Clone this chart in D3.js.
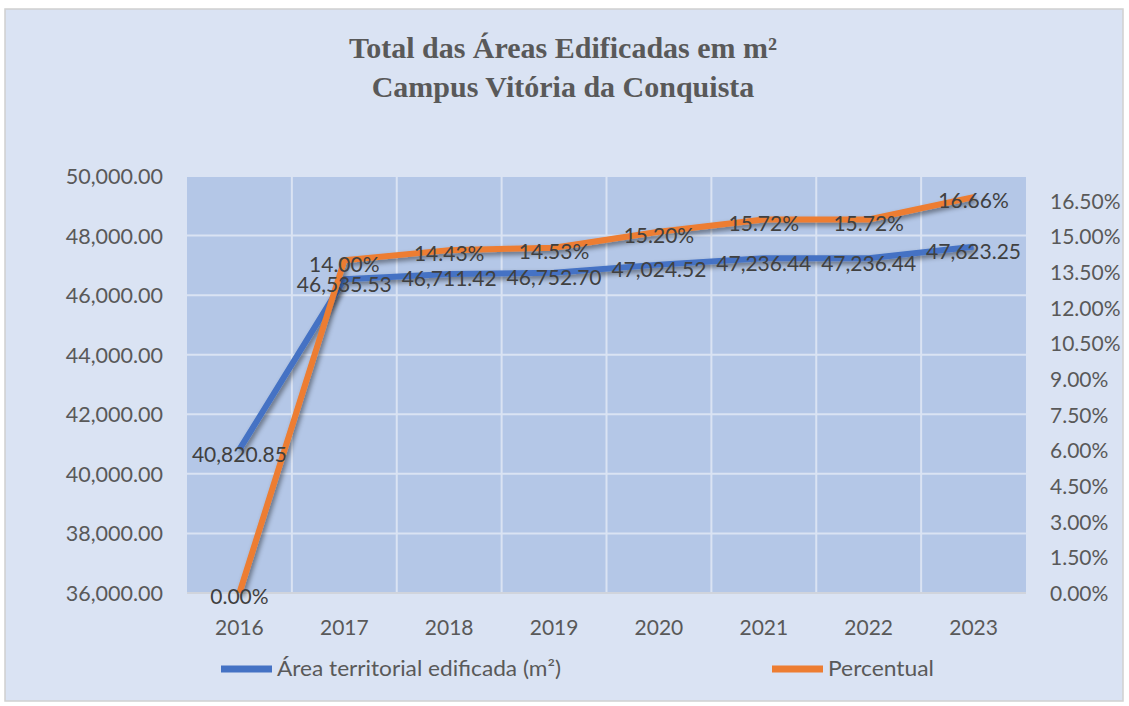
<!DOCTYPE html>
<html><head><meta charset="utf-8">
<script src="https://cdn.jsdelivr.net/npm/d3@7"></script>
<style>body{margin:0;background:#fff}svg{display:block}</style>
</head><body>
<svg id="c" width="1129" height="706"></svg>
<script>
const years = ["2016","2017","2018","2019","2020","2021","2022","2023"];
const area = [40820.85,46535.53,46711.42,46752.70,47024.52,47236.44,47236.44,47623.25];
const percent = [0,0.1400,0.1443,0.1453,0.1520,0.1572,0.1572,0.1666];
const leftTicks = [36000,38000,40000,42000,44000,46000,48000,50000];
const rightTicks = [0,0.015,0.03,0.045,0.06,0.075,0.09,0.105,0.12,0.135,0.15,0.165];
const titleLines = ["Total das Áreas Edificadas em m²","Campus Vitória da Conquista"];
const seriesNames = ["Área territorial edificada (m²)","Percentual"];

const svg = d3.select("#c");
const font = "Lato, 'Open Sans', sans-serif";
const L=187,R=1026,T=176,B=593;

svg.append("rect").attr("x",5).attr("y",9).attr("width",1118).attr("height",692)
  .attr("fill","#dae3f3").attr("stroke","#d0d0d0").attr("stroke-width",1.5);

const defs = svg.append("defs");
const f = defs.append("filter").attr("id","sh").attr("x","-10%").attr("y","-10%").attr("width","130%").attr("height","130%");
f.append("feDropShadow").attr("dx",2).attr("dy",3).attr("stdDeviation",2.5).attr("flood-color","#000").attr("flood-opacity",0.45);

svg.selectAll("text.title").data(titleLines).join("text")
  .attr("x",563).attr("y",(d,i)=>58+i*39).attr("text-anchor","middle")
  .attr("font-family","'Liberation Serif','Times New Roman',serif").attr("font-weight","bold")
  .attr("font-size",30).attr("fill","#595959").text(d=>d);

const x = d3.scaleBand().domain(years).range([L,R]);
const yL = d3.scaleLinear().domain([36000,50000]).range([B,T]);
const yR = d3.scaleLinear().domain([0,0.1755]).range([B,T]);

svg.append("rect").attr("x",L).attr("y",T).attr("width",R-L).attr("height",B-T).attr("fill","#b4c7e7");

// gridlines
svg.append("g").selectAll("line").data(leftTicks.slice(1)).join("line")
  .attr("x1",L).attr("x2",R).attr("y1",d=>yL(d)).attr("y2",d=>yL(d))
  .attr("stroke","#dae3f3").attr("stroke-width",2);
svg.append("g").selectAll("line").data(years.slice(1)).join("line")
  .attr("x1",d=>x(d)).attr("x2",d=>x(d)).attr("y1",T).attr("y2",B)
  .attr("stroke","#dae3f3").attr("stroke-width",2);
svg.append("line").attr("x1",L).attr("x2",R).attr("y1",B).attr("y2",B).attr("stroke","#d0d4dc").attr("stroke-width",2);

// left axis
const fmtL = d3.format(",.2f");
const axL = svg.append("g").attr("transform",`translate(${L-24},0)`)
  .call(d3.axisLeft(yL).tickValues(leftTicks).tickFormat(fmtL).tickSize(0).tickPadding(0));
axL.select(".domain").remove();
axL.selectAll("text").attr("font-family",font).attr("font-size",21.5).attr("fill","#595959").attr("dy","0.35em");

const fmtR = d3.format(".2%");
const axR = svg.append("g").attr("transform",`translate(${R+24},0)`)
  .call(d3.axisRight(yR).tickValues(rightTicks).tickFormat(fmtR).tickSize(0).tickPadding(0));
axR.select(".domain").remove();
axR.selectAll("text").attr("font-family",font).attr("font-size",21).attr("fill","#595959").attr("dy","0.35em");

const axB = svg.append("g").attr("transform",`translate(0,${B+27})`)
  .call(d3.axisBottom(x).tickSize(0).tickPadding(0));
axB.select(".domain").remove();
axB.selectAll("text").attr("font-family",font).attr("font-size",21).attr("fill","#595959").attr("dy","0.71em");

const cx = d => x(d)+x.bandwidth()/2;
const lineA = d3.line().x((d,i)=>cx(years[i])).y(d=>yL(d));
const lineP = d3.line().x((d,i)=>cx(years[i])).y(d=>yR(d));

svg.append("path").attr("d",lineA(area)).attr("fill","none").attr("stroke","#4472c4")
  .attr("stroke-width",6).attr("stroke-linejoin","round").attr("filter","url(#sh)");
svg.append("path").attr("d",lineP(percent)).attr("fill","none").attr("stroke","#ed7d31")
  .attr("stroke-width",6).attr("stroke-linejoin","round").attr("filter","url(#sh)");

svg.append("g").selectAll("text").data(area).join("text")
  .attr("x",(d,i)=>cx(years[i])).attr("y",d=>yL(d)+5).attr("text-anchor","middle").attr("dy","0.35em")
  .attr("font-family",font).attr("font-size",21).attr("fill","#404040").text(d=>fmtL(d));
svg.append("g").selectAll("text").data(percent).join("text")
  .attr("x",(d,i)=>cx(years[i])).attr("y",d=>yR(d)+4).attr("text-anchor","middle").attr("dy","0.35em")
  .attr("font-family",font).attr("font-size",21).attr("fill","#404040").text(d=>fmtR(d));

// legend
const leg = [{c:"#4472c4",x:221,w:284},{c:"#ed7d31",x:772,w:106}];
const lg = svg.append("g").selectAll("g").data(seriesNames).join("g");
lg.append("line").attr("x1",(d,i)=>leg[i].x).attr("x2",(d,i)=>leg[i].x+51).attr("y1",669).attr("y2",669)
  .attr("stroke",(d,i)=>leg[i].c).attr("stroke-width",7);
lg.append("text").attr("x",(d,i)=>leg[i].x+56).attr("y",669).attr("dy","0.35em")
  .attr("textLength",(d,i)=>leg[i].w).attr("lengthAdjust","spacingAndGlyphs")
  .attr("font-family",font).attr("font-size",21).attr("fill","#595959").text(d=>d);
</script>
</body></html>
